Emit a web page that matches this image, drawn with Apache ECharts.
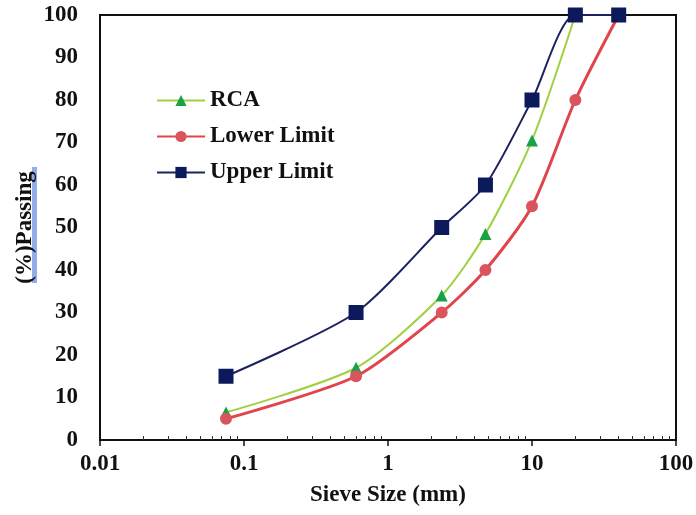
<!DOCTYPE html>
<html>
<head>
<meta charset="utf-8">
<script src="https://cdn.jsdelivr.net/npm/echarts@6/dist/echarts.min.js"></script>
<style>
  html, body { margin: 0; padding: 0; background: #fff; }
  #chart { width: 696px; height: 515px; }
</style>
</head>
<body>
<div id="chart"></div>
<script>
// Sieve sizes (mm) and percent passing for each gradation curve
const sieveRCA = [0.075, 0.6, 2.36, 4.75, 10, 20];
const passRCA = [6.5, 17, 34, 48.5, 70.5, 100];

const sieveLimits = [0.075, 0.6, 2.36, 4.75, 10, 20, 40];
const passLower = [5, 15, 30, 40, 55, 80, 100];
const passUpper = [15, 30, 50, 60, 80, 100, 100];

const xTickLabels = [0.01, 0.1, 1, 10, 100];
// logarithmic minor tick positions between the decades
const xMinorTicks = [];
for (let d = 0; d < 4; d++) {
  for (let m = 2; m <= 9; m++) xMinorTicks.push(+(m * Math.pow(10, d - 2)).toPrecision(3));
}

const serif = '"Liberation Serif", "Times New Roman", serif';
const FS = 23;

const pairs = (xs, ys) => xs.map((x, i) => [x, ys[i]]);

const chart = echarts.init(document.getElementById('chart'), null, { renderer: 'canvas' });

chart.setOption({
  animation: false,
  backgroundColor: '#fff',
  grid: {
    left: 100, right: 20, top: 15, bottom: 75,
    outerBoundsMode: 'none',
    show: true, borderColor: '#111', borderWidth: 2, backgroundColor: 'transparent'
  },
  legend: {
    left: 151, top: 84,
    orient: 'vertical',
    itemGap: 13,
    itemWidth: 48, itemHeight: 14,
    textStyle: { fontFamily: serif, fontWeight: 'bold', fontSize: FS, color: '#111' },
    data: ['RCA', 'Lower Limit', 'Upper Limit']
  },
  xAxis: [{
    type: 'log', logBase: 10, min: 0.01, max: 100,
    name: 'Sieve Size (mm)', nameLocation: 'middle', nameGap: 44,
    nameTextStyle: { fontFamily: serif, fontWeight: 'bold', fontSize: FS, color: '#111' },
    axisLine: { show: true, lineStyle: { color: '#111', width: 2 } },
    axisTick: { show: true, inside: false, length: 6, lineStyle: { color: '#111', width: 1.5 } },
    axisLabel: {
      fontFamily: serif, fontWeight: 'bold', fontSize: FS, color: '#111', margin: 13,
      customValues: xTickLabels,
      formatter: v => String(v)
    },
    splitLine: { show: false }
  }, {
    type: 'log', logBase: 10, min: 0.01, max: 100,
    gridIndex: 0, position: 'bottom',
    axisLine: { show: false },
    axisLabel: { show: false },
    axisTick: { show: true, inside: true, length: 4, customValues: xMinorTicks, lineStyle: { color: '#333', width: 1 } },
    splitLine: { show: false }
  }],
  yAxis: {
    type: 'value', min: 0, max: 100, interval: 10,
    name: '(%)Passing', nameLocation: 'middle', nameGap: 63, nameRotate: 90,
    nameMoveOverlap: false,
    nameTextStyle: { fontFamily: serif, fontWeight: 'bold', fontSize: FS, color: '#111' },
    axisLine: { show: true, lineStyle: { color: '#111', width: 2 } },
    axisTick: { show: false },
    axisLabel: { fontFamily: serif, fontWeight: 'bold', fontSize: FS, color: '#111', margin: 22 },
    splitLine: { show: false }
  },
  graphic: [{
    // highlight band behind the y-axis title
    type: 'rect', z: -1,
    shape: { x: 32, y: 167, width: 5, height: 116 },
    style: { fill: '#7f9fe6', opacity: 0.85 }
  }],
  series: [{
    name: 'RCA', type: 'line', smooth: 0.25,
    data: pairs(sieveRCA, passRCA),
    symbol: 'triangle', symbolSize: 12,
    lineStyle: { color: '#9fd040', width: 2 },
    itemStyle: { color: '#17a345' }
  }, {
    name: 'Lower Limit', type: 'line', smooth: 0.25,
    data: pairs(sieveLimits, passLower),
    symbol: 'circle', symbolSize: 12,
    lineStyle: { color: '#e0454c', width: 3 },
    itemStyle: { color: '#d9545c' }
  }, {
    name: 'Upper Limit', type: 'line', smooth: 0.25,
    data: pairs(sieveLimits, passUpper),
    symbol: 'rect', symbolSize: 15,
    lineStyle: { color: '#1c2260', width: 2 },
    itemStyle: { color: '#0c1a5c' }
  }]
});
</script>
</body>
</html>
